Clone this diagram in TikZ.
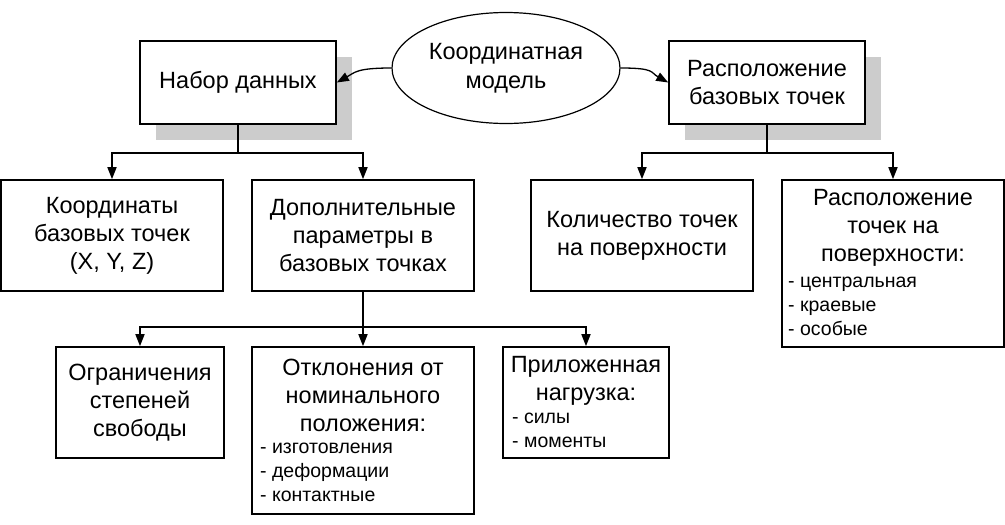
\documentclass[tikz,border=0pt]{standalone}
\usepackage{fontspec}
\setmainfont{Liberation Sans}
\usetikzlibrary{arrows.meta,shapes.geometric,shadows}
\begin{document}
\begin{tikzpicture}[x=1pt,y=-1pt,
	box/.style={draw,line width=1.6pt,fill=white,inner sep=0pt,align=center,font=\fontsize{23.5}{28}\selectfont},
	shbox/.style={box,drop shadow={shadow xshift=16pt,shadow yshift=-16pt,fill=black!20,opacity=1}},
	head/.style={inner sep=0pt,align=center,anchor=north,font=\fontsize{23.5}{28}\selectfont},
	items/.style={inner sep=0pt,align=left,anchor=north west,font=\fontsize{19.5}{24}\selectfont},
	stem/.style={line width=2.4pt},
	arr/.style={line width=1.6pt,-{Triangle[length=12pt,width=9pt]}}]
\useasboundingbox (0,0) rectangle (1005,525);

\node[shbox,minimum width=196pt,minimum height=83pt] (nabor) at (238,82.5) {Набор данных};
\node[shbox,minimum width=196pt,minimum height=83pt] (raspbaz) at (767,82.5) {Расположение\\базовых точек};
\node[ellipse,draw,line width=1.2pt,fill=white,inner sep=0pt,minimum width=228pt,minimum height=111pt,align=center,font=\fontsize{23.5}{29}\selectfont] (model) at (506,68) {Координатная\\модель};

\node[box,minimum width=222pt,minimum height=111pt] (koord) at (112,235.5) {Координаты\\базовых точек\\(X, Y, Z)};
\node[box,minimum width=222pt,minimum height=111pt] (dop) at (363,235.5) {Дополнительные\\параметры в\\базовых точках};
\node[box,minimum width=222pt,minimum height=111pt] (kolvo) at (642,235.5) {Количество точек\\на поверхности};
\node[box,minimum width=222pt,minimum height=167pt] (rasptoch) at (893,263.5) {};
\node[box,minimum width=168pt,minimum height=111pt] (ogr) at (140,402.5) {Ограничения\\степеней\\свободы};
\node[box,minimum width=222pt,minimum height=167pt] (otkl) at (363,430.5) {};
\node[box,minimum width=166pt,minimum height=111pt] (nagr) at (586,402.5) {};

\node[head] (rasptoch-h) at (893,185) {\rule{0pt}{20pt}Расположение\\точек на\\поверхности:};
\node[items] (rasptoch-l) at (788,270) {\rule{0pt}{17pt}- центральная\\- краевые\\- особые};
\node[head] (otkl-h) at (363,355) {\rule{0pt}{20pt}Отклонения от\\номинального\\положения:};
\node[items] (otkl-l) at (260,436) {\rule{0pt}{17pt}- изготовления\\- деформации\\- контактные};
\node[head] (nagr-h) at (586,352) {\rule{0pt}{20pt}Приложенная\\нагрузка:};
\node[items] (nagr-l) at (512,406) {\rule{0pt}{17pt}- силы\\- моменты};

\draw[arr,line width=1.3pt] (model.west) .. controls +(-35,0) and +(18,-10) .. (nabor.east);
\draw[arr,line width=1.3pt] (model.east) .. controls +(35,0) and +(-18,-10) .. (raspbaz.west);

\path (nabor.south) ++(0,28) coordinate (j1);
\path (raspbaz.south) ++(0,28) coordinate (j2);
\path (dop.south) ++(0,35) coordinate (j3);
\draw[stem] (nabor) -- (j1);
\draw[stem] (raspbaz) -- (j2);
\draw[stem] (dop) -- (j3);
\foreach \b in {koord,dop}
	\draw[arr] (j1) -| (\b);
\foreach \b in {kolvo,rasptoch}
	\draw[arr] (j2) -| (\b);
\foreach \b in {ogr,otkl,nagr}
	\draw[arr] (j3) -| (\b);
\end{tikzpicture}
\end{document}
